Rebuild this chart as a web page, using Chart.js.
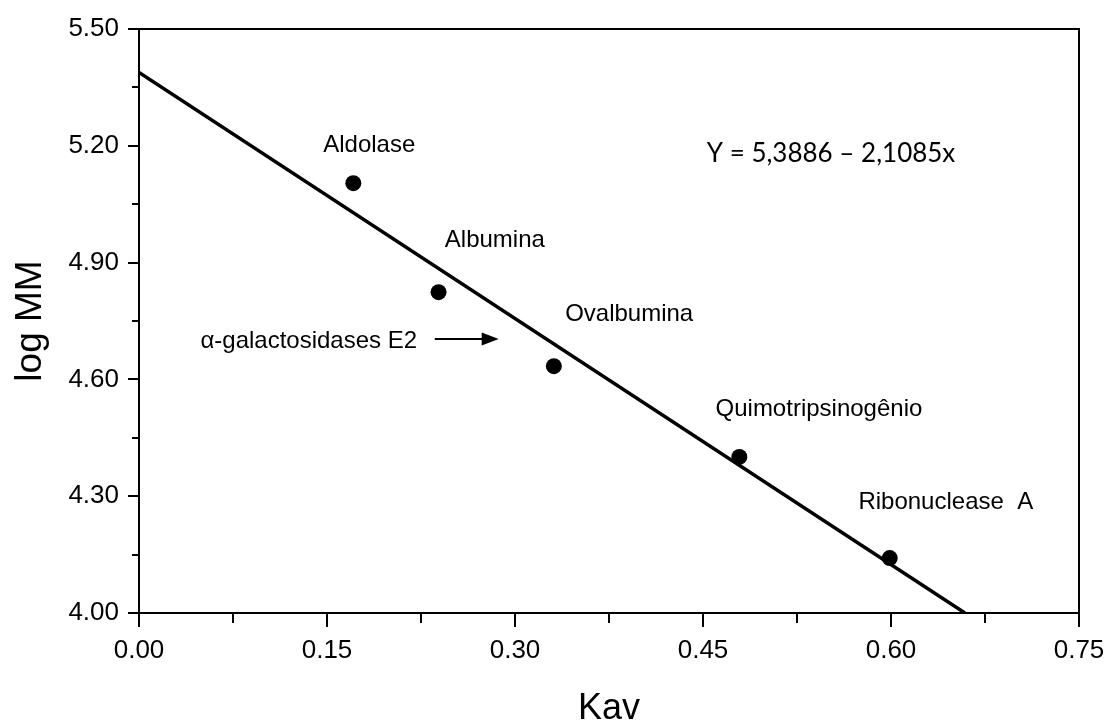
<!DOCTYPE html>
<html lang="pt">
<head>
<meta charset="UTF-8">
<title>Curva de calibração - log MM x Kav</title>
<script src="https://cdn.jsdelivr.net/npm/chart.js"></script>
<style>
  html, body { margin: 0; padding: 0; background: #fff; }
</style>
</head>
<body>
<canvas id="curva" width="1108" height="725"></canvas>
<script>
// padrões de massa molecular
const proteinas = ['Aldolase', 'Albumina', 'Ovalbumina', 'Quimotripsinogênio', 'Ribonuclease  A'];
const kav = [0.171, 0.239, 0.331, 0.479, 0.599];
const logMM = [5.104, 4.824, 4.634, 4.401, 4.141];

// reta ajustada: Y = 5,3886 – 2,1085x (de Kav = 0 até log MM = 4,00)
const retaKav = [0, 0.659];
const retaLogMM = [5.3886, 4.00];

const xTicks = [0.00, 0.15, 0.30, 0.45, 0.60, 0.75];
const yTicks = [4.00, 4.30, 4.60, 4.90, 5.20, 5.50];

// rótulos de texto (coordenadas em Kav / log MM, texto alinhado à esquerda)
const posRotulos = [[0.147, 5.202], [0.244, 4.958], [0.340, 4.767], [0.460, 4.524], [0.574, 4.285]];
const equacao = { texto: 'Y = 5,3886 \u2013 2,1085x', x: 0.453, y: 5.179 };
const enzima = { texto: '\u03b1-galactosidases E2', x: 0.049, y: 4.697, setaDe: 0.236, setaAte: 0.287, setaY: 4.704 };

const FONTE = "'Liberation Sans', Arial, sans-serif";

const ehPrincipal = (lista, v) => lista.some(t => Math.abs(t - v) < 1e-6);

const desenho = {
  id: 'desenho',
  afterDraw(chart) {
    const { ctx, chartArea: a, scales: { x, y } } = chart;
    ctx.save();
    ctx.strokeStyle = '#000';
    ctx.fillStyle = '#000';
    ctx.lineWidth = 2;
    ctx.strokeRect(a.left, a.top, a.right - a.left, a.bottom - a.top);

    // marcas principais e secundárias, para fora da área
    x.ticks.forEach((t, i) => {
      const px = Math.round(x.getPixelForTick(i));
      const len = ehPrincipal(xTicks, t.value) ? 14 : 10;
      ctx.beginPath(); ctx.moveTo(px, a.bottom); ctx.lineTo(px, a.bottom + len); ctx.stroke();
    });
    y.ticks.forEach((t, i) => {
      const py = Math.round(y.getPixelForTick(i));
      const len = ehPrincipal(yTicks, t.value) ? 11 : 7;
      ctx.beginPath(); ctx.moveTo(a.left, py); ctx.lineTo(a.left - len, py); ctx.stroke();
    });

    ctx.textBaseline = 'middle';
    ctx.textAlign = 'left';
    ctx.font = '24px ' + FONTE;
    proteinas.forEach((nome, i) => {
      const [kx, ky] = posRotulos[i];
      ctx.fillText(nome, x.getPixelForValue(kx), y.getPixelForValue(ky));
    });
    ctx.fillText(enzima.texto, x.getPixelForValue(enzima.x), y.getPixelForValue(enzima.y));

    // seta
    const sx0 = x.getPixelForValue(enzima.setaDe);
    const sx1 = x.getPixelForValue(enzima.setaAte);
    const sy = y.getPixelForValue(enzima.setaY);
    ctx.beginPath(); ctx.moveTo(sx0, sy); ctx.lineTo(sx1 - 14, sy); ctx.stroke();
    ctx.beginPath();
    ctx.moveTo(sx1, sy); ctx.lineTo(sx1 - 17, sy - 6.5); ctx.lineTo(sx1 - 17, sy + 6.5);
    ctx.closePath(); ctx.fill();

    ctx.font = "26px Lato, 'Open Sans', sans-serif";
    ctx.fillText(equacao.texto, x.getPixelForValue(equacao.x), y.getPixelForValue(equacao.y));
    ctx.restore();
  }
};

new Chart(document.getElementById('curva'), {
  type: 'scatter',
  data: {
    datasets: [
      {
        label: 'Padrões',
        data: kav.map((v, i) => ({ x: v, y: logMM[i] })),
        pointRadius: 8,
        pointBackgroundColor: '#000',
        pointBorderWidth: 0,
        showLine: false
      },
      {
        label: 'Reta',
        data: retaKav.map((v, i) => ({ x: v, y: retaLogMM[i] })),
        showLine: true,
        borderColor: '#000',
        borderWidth: 3.5,
        pointRadius: 0
      }
    ]
  },
  options: {
    responsive: false,
    animation: false,
    layout: { padding: { top: 29, right: 29, left: 0, bottom: 0 } },
    plugins: { legend: { display: false }, tooltip: { enabled: false } },
    scales: {
      x: {
        type: 'linear',
        min: 0, max: 0.75,
        afterFit: s => {
          s.height = 112;
          s.paddingLeft = 0; s.paddingRight = 0;
        },
        ticks: {
          stepSize: 0.075,
          autoSkip: false,
          maxRotation: 0,
          padding: 22,
          color: '#000',
          font: { family: FONTE, size: 26 },
          callback: v => ehPrincipal(xTicks, v) ? v.toFixed(2) : ''
        },
        grid: { display: true, drawOnChartArea: false, drawTicks: false },
        border: { display: false },
        title: {
          display: true, text: 'Kav', color: '#000',
          font: { family: FONTE, size: 36, lineHeight: 0.9 },
          padding: 0
        }
      },
      y: {
        type: 'linear',
        min: 4.0, max: 5.5,
        afterFit: s => {
          s.width = 139;
          s.paddingTop = 0; s.paddingBottom = 0;
        },
        ticks: {
          stepSize: 0.15,
          autoSkip: false,
          padding: 20,
          color: '#000',
          font: { family: FONTE, size: 26 },
          callback: v => ehPrincipal(yTicks, v) ? v.toFixed(2) : ''
        },
        grid: { display: true, drawOnChartArea: false, drawTicks: false },
        border: { display: false },
        title: {
          display: true, text: 'log MM', color: '#000',
          font: { family: FONTE, size: 37 },
          padding: { top: 9, bottom: 0 }
        }
      }
    }
  },
  plugins: [desenho]
});
</script>
</body>
</html>
